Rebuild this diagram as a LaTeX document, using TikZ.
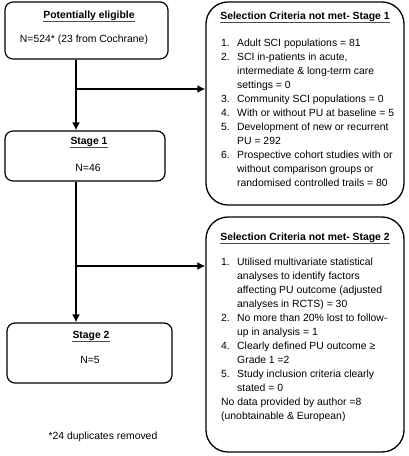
\documentclass[tikz,border=0pt]{standalone}
\usepackage{fontspec}
\setmainfont{Liberation Sans}
\usetikzlibrary{arrows.meta}
\begin{document}
\begin{tikzpicture}[x=1pt,y=-1pt,
  box/.style={draw, line width=1.2pt, rounded corners=8pt, inner sep=0pt},
  bigbox/.style={draw, line width=1.3pt, rounded corners=22pt, inner sep=0pt},
  txt/.style={inner sep=0pt, font=\fontsize{10.4}{14}\selectfont},
  ttl/.style={txt, font=\fontsize{10.4}{14}\selectfont\bfseries, text depth=3.6pt, anchor=base},
  uline/.style={line width=1.3pt, black!70},
  flow/.style={line width=2.4pt, -{Latex[length=8pt,width=8pt]}},
  branch/.style={line width=2.4pt}]
\useasboundingbox (0,0) rectangle (408,456);

% left boxes
\node[box, minimum width=163pt, minimum height=57pt] (pe) at (86.5,30.5) {};
\node[box, minimum width=160pt, minimum height=50pt] (s1) at (85,156) {};
\node[box, minimum width=165pt, minimum height=60pt] (s2) at (89.5,353) {};

\node[ttl] (pet) at (89,18) {Potentially eligible};
\draw[uline] (pet.south west) -- (pet.south east);
\node[txt, anchor=base] (pen) at (84,42) {N=524* (23 from Cochrane)};

\node[ttl] (s1t) at (89,144) {Stage 1};
\draw[uline] (s1t.south west) -- (s1t.south east);
\node[txt, anchor=base] (s1n) at (88,171) {N=46};

\node[ttl] (s2t) at (91,338) {Stage 2};
\draw[uline] (s2t.south west) -- (s2t.south east);
\node[txt, anchor=base] (s2n) at (90,363) {N=5};

% right boxes
\node[bigbox, minimum width=198pt, minimum height=203pt] (rb1) at (305,103.5) {};
\node[bigbox, minimum width=198pt, minimum height=235pt] (rb2) at (305,334.5) {};

\node[ttl] (r1t) at (305,19) {Selection Criteria not met- Stage 1};
\draw[uline] (r1t.south west) -- (r1t.south east);
\node[txt, anchor=base west] (r1l) at (221,46) {\begin{tabular}[t]{@{}l@{}l@{}}
\makebox[16pt][l]{1.} & Adult SCI populations = 81\\
\makebox[16pt][l]{2.} & SCI in-patients in acute,\\
 & intermediate \& long-term care\\
 & settings = 0\\
\makebox[16pt][l]{3.} & Community SCI populations = 0\\
\makebox[16pt][l]{4.} & With or without PU at baseline = 5\\
\makebox[16pt][l]{5.} & Development of new or recurrent\\
 & PU = 292\\
\makebox[16pt][l]{6.} & Prospective cohort studies with or\\
 & without comparison groups or\\
 & randomised controlled trails = 80
\end{tabular}};

\node[ttl] (r2t) at (305,240) {Selection Criteria not met- Stage 2};
\draw[uline] (r2t.south west) -- (r2t.south east);
\node[txt, anchor=base west] (r2l) at (221,265) {\begin{tabular}[t]{@{}l@{}l@{}}
\makebox[16pt][l]{1.} & Utilised multivariate statistical\\
 & analyses to identify factors\\
 & affecting PU outcome (adjusted\\
 & analyses in RCTS) = 30\\
\makebox[16pt][l]{2.} & No more than 20\% lost to follow-\\
 & up in analysis = 1\\
\makebox[16pt][l]{4.} & Clearly defined PU outcome ≥\\
 & Grade 1 =2\\
\makebox[16pt][l]{5.} & Study inclusion criteria clearly\\
 & stated = 0\\
\multicolumn{2}{@{}l@{}}{No data provided by author =8}\\
\multicolumn{2}{@{}l@{}}{(unobtainable \& European)}
\end{tabular}};

% connectors
\coordinate (j1) at (76,89);
\coordinate (j2) at (76,266);
\draw[flow] (pe.south -| j1) -- (s1.north -| j1);
\draw[flow] (j1) -- (rb1.west |- j1);
\draw[flow] (s1.south -| j2) -- (s2.north -| j2);
\draw[flow] (j2) -- (rb2.west |- j2);

% footnote
\node[txt, anchor=base] (fn) at (103,439) {*24 duplicates removed};
\end{tikzpicture}
\end{document}
